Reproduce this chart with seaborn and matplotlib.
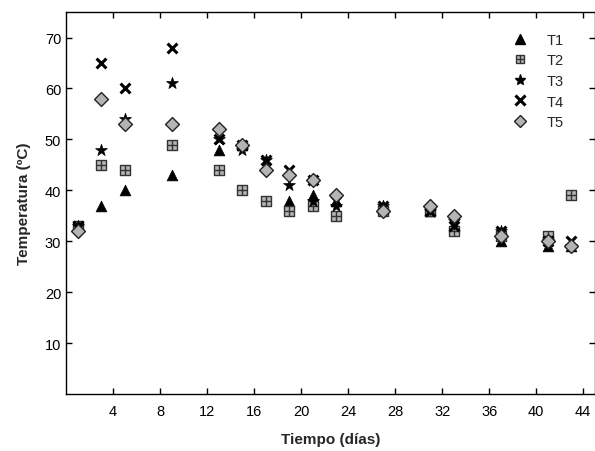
import numpy as np
import pandas as pd
import matplotlib
matplotlib.use("Agg")
import matplotlib.pyplot as plt
import seaborn as sns
from matplotlib.legend_handler import HandlerTuple
from matplotlib.lines import Line2D

# ----------------------------
# Datos
# ----------------------------
dias = [1, 3, 5, 9, 13, 15, 17, 19, 21, 23, 27, 31, 33, 37, 41, 43]

t1_dias = [1, 3, 5, 9, 13, 15, 19, 21, 23, 27, 31, 33, 37, 41, 43]
t1 = [33, 37, 40, 43, 48, 49, 38, 39, 38, 37, 36, 33, 30, 29, 29]
t2 = [33, 45, 44, 49, 44, 40, 38, 36, 37, 35, 36, 36, 32, 31, 31, 39]
t3 = [33, 48, 54, 61, 50, 48, 46, 41, 38, 37, 37, 36, 34, 32, 30, 29]
t4 = [33, 65, 60, 68, 50, 49, 46, 44, 42, 38, 37, 36, 33, 32, 30, 30]
t5 = [32, 58, 53, 53, 52, 49, 44, 43, 42, 39, 36, 37, 35, 31, 30, 29]

x_ticks = [4, 8, 12, 16, 20, 24, 28, 32, 36, 40, 44]
y_ticks = [10, 20, 30, 40, 50, 60, 70]

# ----------------------------
# Estilo
# ----------------------------
sns.set_style("ticks")
plt.rcParams["font.family"] = ["Liberation Sans", "DejaVu Sans"]

fig = plt.figure(figsize=(5.95, 4.52), dpi=100)
ax = fig.add_axes([0.111, 0.126, 0.889, 0.845])

gris = "#b4b4b4"

sns.scatterplot(x=t1_dias, y=t1, marker="^", s=60, color="black",
                edgecolor="black", linewidth=0.5, ax=ax, zorder=3)
sns.scatterplot(x=dias, y=t2, marker="s", s=45, color=gris,
                edgecolor="#333333", linewidth=1.0, ax=ax, zorder=3)
sns.scatterplot(x=dias, y=t2, marker="+", s=45, color="#333333",
                linewidth=1.0, ax=ax, zorder=3)
sns.scatterplot(x=dias, y=t3, marker="*", s=80, color="black",
                edgecolor="black", linewidth=0.5, ax=ax, zorder=4)
sns.scatterplot(x=dias, y=t4, marker="x", s=50, color="black",
                linewidth=2.2, ax=ax, zorder=4)
sns.scatterplot(x=dias, y=t5, marker="D", s=50, color=gris,
                edgecolor="#222222", linewidth=1.0, ax=ax, zorder=5)

ax.set_xlim(0, 45)
ax.set_ylim(0, 75)
ax.set_xticks(x_ticks)
ax.set_yticks(y_ticks)
ax.tick_params(direction="in", top=True, right=True, length=4, width=1,
               labelsize=10.5, colors="black")
ax.tick_params(axis="x", pad=7)
for sp in ax.spines.values():
    sp.set_linewidth(1.0)
    sp.set_color("black")

ax.set_xlabel("Tiempo (días)", fontsize=11, fontweight="bold", labelpad=10)
ax.set_ylabel("Temperatura (ºC)", fontsize=11, fontweight="bold", labelpad=10)

# Leyenda
h1 = Line2D([], [], marker="^", color="black", ls="", ms=7)
h2a = Line2D([], [], marker="s", mfc=gris, mec="#333333", ls="", ms=6)
h2b = Line2D([], [], marker="+", color="#333333", ls="", ms=6, mew=1.0)
h3 = Line2D([], [], marker="*", color="black", ls="", ms=8)
h4 = Line2D([], [], marker="x", color="black", ls="", ms=6.5, mew=2.2)
h5 = Line2D([], [], marker="D", mfc=gris, mec="#222222", ls="", ms=6.5)
ax.legend([h1, (h2a, h2b), h3, h4, h5], ["T1", "T2", "T3", "T4", "T5"],
          handler_map={tuple: HandlerTuple(ndivide=1)},
          loc="upper right", bbox_to_anchor=(0.965, 0.98), frameon=False,
          fontsize=10.5, handlelength=1.2, handletextpad=1.2, labelspacing=0.45)

fig.savefig("out.png", dpi=100)
